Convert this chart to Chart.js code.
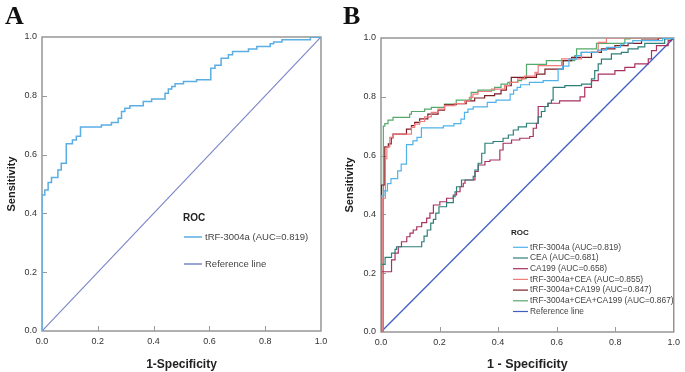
<!DOCTYPE html>
<html>
<head>
<meta charset="utf-8">
<script src="https://cdn.jsdelivr.net/npm/chart.js@4.4.0/dist/chart.umd.min.js"></script>
<style>
    html, body { margin: 0; padding: 0; background: #fff; }
    #wrap { position: relative; width: 685px; height: 372px; overflow: hidden; }
    .panel { position: absolute; top: 0; }
    .tag { position: absolute; top: 3px; font: bold 26px "Liberation Serif", "Times New Roman", serif; line-height: 26px; color: #111; }
</style>
</head>
<body>
<div id="wrap">
    <div class="panel" style="left:0"><canvas id="chartA" width="340" height="372"></canvas></div>
    <div class="panel" style="left:340px"><canvas id="chartB" width="345" height="372"></canvas></div>
    <div class="tag" style="left:5px">A</div>
    <div class="tag" style="left:343px">B</div>
</div>
<script>
// axis ticks (both axes, both panels)
const tickValues = [0, 0.2, 0.4, 0.6, 0.8, 1.0];

// ROC step points: 1-specificity (fpr) and sensitivity (tpr)
const trfFpr = [0, 0, 0.010, 0.022, 0.034, 0.057, 0.069, 0.087, 0.109, 0.123, 0.138, 0.213, 0.249, 0.273, 0.285, 0.297, 0.315, 0.363, 0.393, 0.441, 0.453, 0.465, 0.477, 0.507, 0.554, 0.605, 0.620, 0.642, 0.668, 0.683, 0.740, 0.770, 0.818, 0.830, 0.860, 0.962, 1.0];
const trfTpr = [0, 0.463, 0.480, 0.505, 0.522, 0.548, 0.571, 0.637, 0.650, 0.662, 0.694, 0.701, 0.709, 0.724, 0.747, 0.758, 0.766, 0.781, 0.789, 0.809, 0.823, 0.832, 0.841, 0.849, 0.855, 0.894, 0.904, 0.928, 0.940, 0.951, 0.959, 0.968, 0.977, 0.983, 0.991, 0.999, 1.0];

const ceaFpr = [0, 0, 0.014, 0.036, 0.048, 0.053, 0.139, 0.147, 0.158, 0.170, 0.179, 0.187, 0.198, 0.224, 0.247, 0.253, 0.258, 0.275, 0.315, 0.321, 0.332, 0.344, 0.355, 0.383, 0.417, 0.435, 0.452, 0.469, 0.497, 0.537, 0.548, 0.560, 0.571, 0.582, 0.588, 0.628, 0.685, 0.719, 0.730, 0.742, 0.753, 0.787, 0.821, 0.844, 0.878, 0.901, 0.969, 1.0];
const ceaTpr = [0, 0.230, 0.254, 0.268, 0.281, 0.290, 0.307, 0.326, 0.347, 0.370, 0.383, 0.404, 0.426, 0.440, 0.460, 0.477, 0.494, 0.517, 0.529, 0.551, 0.574, 0.608, 0.642, 0.648, 0.659, 0.670, 0.687, 0.698, 0.710, 0.732, 0.750, 0.767, 0.778, 0.789, 0.832, 0.838, 0.843, 0.861, 0.889, 0.912, 0.928, 0.946, 0.951, 0.963, 0.970, 0.982, 0.997, 1.0];

const ca199Fpr = [0, 0, 0.036, 0.048, 0.059, 0.070, 0.088, 0.099, 0.110, 0.122, 0.139, 0.156, 0.167, 0.179, 0.201, 0.224, 0.247, 0.258, 0.270, 0.281, 0.287, 0.321, 0.332, 0.355, 0.372, 0.406, 0.417, 0.446, 0.474, 0.508, 0.520, 0.531, 0.537, 0.570, 0.610, 0.680, 0.696, 0.719, 0.742, 0.799, 0.833, 0.867, 0.913, 0.924, 0.941, 0.981, 0.992, 1.0];
const ca199Tpr = [0, 0.205, 0.245, 0.268, 0.290, 0.307, 0.324, 0.336, 0.347, 0.358, 0.372, 0.387, 0.404, 0.432, 0.443, 0.455, 0.466, 0.477, 0.494, 0.506, 0.517, 0.546, 0.568, 0.580, 0.585, 0.619, 0.642, 0.653, 0.659, 0.665, 0.693, 0.710, 0.767, 0.778, 0.786, 0.800, 0.832, 0.855, 0.877, 0.889, 0.900, 0.912, 0.929, 0.957, 0.974, 0.991, 1.0, 1.0];

const trfCeaFpr = [0, 0.004, 0.015, 0.020, 0.030, 0.041, 0.104, 0.115, 0.132, 0.149, 0.172, 0.195, 0.217, 0.252, 0.286, 0.302, 0.314, 0.331, 0.377, 0.422, 0.439, 0.467, 0.490, 0.526, 0.537, 0.617, 0.685, 0.742, 0.770, 1.0];
const trfCeaTpr = [0, 0.455, 0.590, 0.630, 0.662, 0.673, 0.696, 0.707, 0.716, 0.732, 0.747, 0.758, 0.770, 0.777, 0.786, 0.798, 0.809, 0.818, 0.826, 0.838, 0.849, 0.861, 0.870, 0.883, 0.906, 0.929, 0.951, 0.985, 1.0, 1.0];

const trfCa199Fpr = [0, 0.002, 0.013, 0.025, 0.035, 0.041, 0.087, 0.104, 0.115, 0.132, 0.160, 0.195, 0.217, 0.257, 0.291, 0.320, 0.354, 0.388, 0.410, 0.428, 0.445, 0.531, 0.560, 0.622, 0.651, 0.719, 0.753, 0.799, 0.844, 0.890, 0.947, 1.0];
const trfCa199Tpr = [0, 0.500, 0.630, 0.640, 0.660, 0.673, 0.690, 0.702, 0.713, 0.725, 0.741, 0.755, 0.773, 0.777, 0.786, 0.796, 0.804, 0.810, 0.823, 0.838, 0.866, 0.877, 0.894, 0.923, 0.934, 0.951, 0.963, 0.974, 0.982, 0.993, 1.0, 1.0];

const allFpr = [0, 0.008, 0.013, 0.024, 0.041, 0.098, 0.104, 0.149, 0.172, 0.217, 0.257, 0.302, 0.308, 0.331, 0.388, 0.410, 0.433, 0.467, 0.480, 0.497, 0.565, 0.662, 0.668, 0.736, 0.833, 0.850, 1.0];
const allTpr = [0, 0.700, 0.709, 0.721, 0.730, 0.741, 0.750, 0.758, 0.764, 0.775, 0.789, 0.792, 0.815, 0.823, 0.832, 0.843, 0.849, 0.855, 0.862, 0.910, 0.923, 0.940, 0.963, 0.982, 0.997, 1.0, 1.0];

const refFpr = [0, 1];
const refTpr = [0, 1];

const labelsA = ['tRF-3004a (AUC=0.819)', 'Reference line'];
const labelsB = [
    'tRF-3004a (AUC=0.819)',
    'CEA (AUC=0.681)',
    'CA199 (AUC=0.658)',
    'tRF-3004a+CEA (AUC=0.855)',
    'tRF-3004a+CA199 (AUC=0.847)',
    'tRF-3004a+CEA+CA199 (AUC=0.867)',
    'Reference line'
];

const FONT = '"Liberation Sans", Arial, sans-serif';

function toPoints(xs, ys) {
    return xs.map((x, i) => ({ x: x, y: ys[i] }));
}

// frame round the plot area and short inward tick marks
const frameTicks = {
    id: 'frameTicks',
    beforeDatasetsDraw(chart) {
        const { ctx, chartArea: a, scales } = chart;
        ctx.save();
        ctx.strokeStyle = '#8f8f8f';
        ctx.lineWidth = 1.4;
        ctx.strokeRect(a.left, a.top, a.right - a.left, a.bottom - a.top);
        ctx.lineWidth = 1;
        ctx.strokeStyle = '#9a9a9a';
        ctx.beginPath();
        tickValues.slice(1, -1).forEach(v => {
            const x = Math.round(scales.x.getPixelForValue(v)) + 0.5;
            ctx.moveTo(x, a.bottom);
            ctx.lineTo(x, a.bottom - 5);
            const y = Math.round(scales.y.getPixelForValue(v)) + 0.5;
            ctx.moveTo(a.left, y);
            ctx.lineTo(a.left + 5, y);
        });
        ctx.stroke();
        ctx.restore();
    }
};

// SPSS-like legend drawn inside the plot
const rocLegend = {
    id: 'rocLegend',
    afterDraw(chart, args, o) {
        const ctx = chart.ctx;
        ctx.save();
        ctx.textBaseline = 'middle';
        ctx.textAlign = 'left';
        ctx.fillStyle = '#222';
        ctx.font = 'bold ' + o.titleSize + 'px ' + FONT;
        ctx.fillText('ROC', o.x, o.titleY);
        ctx.font = o.size + 'px ' + FONT;
        chart.data.datasets.forEach((ds, i) => {
            const y = o.rowY + i * o.rowGap;
            ctx.strokeStyle = ds.borderColor;
            ctx.lineWidth = o.lineWidth;
            ctx.beginPath();
            ctx.moveTo(o.lineX, y);
            ctx.lineTo(o.lineX + o.lineLen, y);
            ctx.stroke();
            ctx.fillStyle = '#444';
            ctx.fillText(ds.label, o.textX, y);
        });
        ctx.restore();
    }
};

function axis(title, geo, horizontal) {
    return {
        type: 'linear',
        min: 0,
        max: 1,
        afterBuildTicks: s => { s.ticks = tickValues.map(v => ({ value: v })); },
        afterFit: s => {
            if (horizontal) s.height = geo.xHeight;
            else s.width = geo.yWidth;
        },
        grid: { display: false, drawTicks: false },
        border: { display: false },
        ticks: {
            autoSkip: false,
            maxRotation: 0,
            padding: horizontal ? 5 : 5,
            color: '#333',
            font: { family: FONT, size: 9 },
            callback: v => v.toFixed(1)
        },
        title: {
            display: true,
            text: title,
            color: '#222',
            font: { family: FONT, size: horizontal ? geo.xTitleSize : 11, weight: 'bold' },
            padding: { top: horizontal ? geo.xTitlePad : geo.yTitlePad, bottom: 0 }
        }
    };
}

function buildPanel(id, datasets, xTitle, geo, legend) {
    return new Chart(document.getElementById(id), {
        type: 'line',
        data: { datasets: datasets },
        options: {
            responsive: false,
            animation: false,
            parsing: true,
            layout: { padding: { top: geo.top, right: geo.right, left: 0, bottom: 0 } },
            elements: { point: { radius: 0 }, line: { tension: 0 } },
            scales: {
                x: axis(xTitle, geo, true),
                y: axis('Sensitivity', geo, false)
            },
            plugins: {
                legend: { display: false },
                tooltip: { enabled: false },
                rocLegend: legend
            }
        },
        plugins: [frameTicks, rocLegend]
    });
}

function curve(label, color, xs, ys, width) {
    return {
        label: label,
        data: toPoints(xs, ys),
        borderColor: color,
        borderWidth: width,
        stepped: true,
        fill: false
    };
}

function refLine(label, color, width) {
    return {
        label: label,
        data: toPoints(refFpr, refTpr),
        borderColor: color,
        borderWidth: width,
        fill: false
    };
}

buildPanel('chartA', [
    curve(labelsA[0], '#5aaee3', trfFpr, trfTpr, 1.5),
    refLine(labelsA[1], '#7a86c8', 1.2)
], '1-Specificity',
    { top: 37, right: 19, yWidth: 42, xHeight: 41, xTitlePad: 3, yTitlePad: 5, xTitleSize: 12 },
    { x: 183, titleY: 218, titleSize: 10, size: 9.5, rowY: 237, rowGap: 27, lineX: 184, lineLen: 18, textX: 205, lineWidth: 1.5 }
);

buildPanel('chartB', [
    curve(labelsB[0], '#4fb3ea', trfFpr, trfTpr, 1.2),
    curve(labelsB[1], '#2e7f7a', ceaFpr, ceaTpr, 1.2),
    curve(labelsB[2], '#a83160', ca199Fpr, ca199Tpr, 1.2),
    curve(labelsB[3], '#f27b7b', trfCeaFpr, trfCeaTpr, 1.2),
    curve(labelsB[4], '#7d1d26', trfCa199Fpr, trfCa199Tpr, 1.2),
    curve(labelsB[5], '#55a96b', allFpr, allTpr, 1.2),
    refLine(labelsB[6], '#3f5fc4', 1.3)
], '1 - Specificity',
    { top: 38, right: 11, yWidth: 41, xHeight: 40, xTitlePad: 3, yTitlePad: 3, xTitleSize: 12.5 },
    { x: 171, titleY: 233, titleSize: 8, size: 8.4, rowY: 247.3, rowGap: 10.7, lineX: 173, lineLen: 15, textX: 190, lineWidth: 1.2 }
);
</script>
</body>
</html>
